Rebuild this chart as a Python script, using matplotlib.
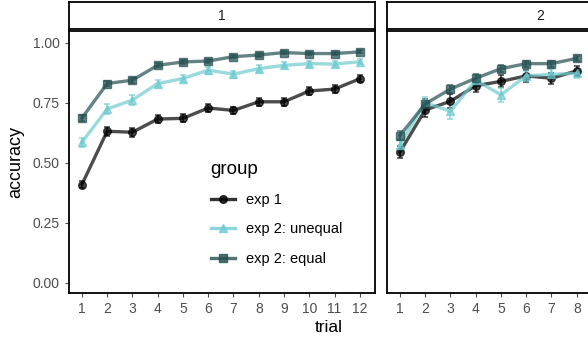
import numpy as np
import matplotlib.pyplot as plt
from matplotlib.lines import Line2D

plt.rcParams['font.family'] = ['Liberation Sans', 'DejaVu Sans']

# data
trials1 = np.arange(1, 13)
trials2 = np.arange(1, 9)
groups = ['exp 1', 'exp 2: unequal', 'exp 2: equal']

p1_exp1 = [0.41, 0.632, 0.628, 0.683, 0.686, 0.729, 0.719, 0.755, 0.755, 0.800, 0.808, 0.851]
p1_exp1_se = [0.015, 0.018, 0.018, 0.018, 0.017, 0.017, 0.016, 0.016, 0.017, 0.015, 0.015, 0.014]
p1_uneq = [0.586, 0.725, 0.762, 0.831, 0.852, 0.887, 0.870, 0.893, 0.907, 0.914, 0.912, 0.922]
p1_uneq_se = [0.018, 0.02, 0.02, 0.016, 0.016, 0.015, 0.015, 0.014, 0.013, 0.012, 0.012, 0.011]
p1_eq = [0.687, 0.831, 0.845, 0.907, 0.921, 0.925, 0.943, 0.950, 0.960, 0.956, 0.956, 0.963]
p1_eq_se = [0.012, 0.012, 0.011, 0.009, 0.008, 0.008, 0.007, 0.007, 0.006, 0.006, 0.006, 0.006]

p2_exp1 = [0.545, 0.721, 0.757, 0.822, 0.840, 0.863, 0.853, 0.884]
p2_exp1_se = [0.025, 0.03, 0.03, 0.025, 0.025, 0.025, 0.024, 0.022]
p2_uneq = [0.575, 0.752, 0.715, 0.845, 0.784, 0.863, 0.870, 0.873]
p2_uneq_se = [0.025, 0.025, 0.03, 0.02, 0.03, 0.02, 0.02, 0.02]
p2_eq = [0.614, 0.746, 0.808, 0.853, 0.893, 0.914, 0.914, 0.936]
p2_eq_se = [0.02, 0.02, 0.018, 0.016, 0.014, 0.012, 0.012, 0.011]

colors = ['#000000', '#6fcbd0', '#244f50']
markers = ['o', '^', 's']

W, H = 588, 341
fig = plt.figure(figsize=(W / 100, H / 100), dpi=100)

def px_axes(x0, y0, x1, y1):
    return fig.add_axes([x0 / W, 1 - y1 / H, (x1 - x0) / W, (y1 - y0) / H])

panels = [
    ('1', 69, trials1, [(p1_exp1, p1_exp1_se), (p1_uneq, p1_uneq_se), (p1_eq, p1_eq_se)]),
    ('2', 387, trials2, [(p2_exp1, p2_exp1_se), (p2_uneq, p2_uneq_se), (p2_eq, p2_eq_se)]),
]

for i, (lab, x0, trials, series) in enumerate(panels):
    ax = px_axes(x0, 31, x0 + 306, 293)
    for (vals, se), c, m in zip(series, colors, markers):
        ax.errorbar(trials, vals, yerr=se, color=c, lw=2.4, alpha=0.7,
                    marker=m, ms=5.5, elinewidth=1.2, capsize=2, capthick=1.2, zorder=3)
    ax.set_xlim(0.49, 12.6)
    ax.set_ylim(-0.042, 1.05)
    ax.set_xticks(trials)
    ax.set_yticks([0, 0.25, 0.5, 0.75, 1.0])
    ax.tick_params(colors='#4d4d4d', labelsize=10, length=3, width=0.8)
    for sp in ax.spines.values():
        sp.set_linewidth(1.3)
    if i == 0:
        ax.set_yticklabels(['0.00', '0.25', '0.50', '0.75', '1.00'])
        ax.set_ylabel('accuracy', fontsize=13, labelpad=6)
        handles = [Line2D([], [], color=c, marker=m, lw=2.4, ms=5.5, alpha=0.8)
                   for c, m in zip(colors, markers)]
        leg = ax.legend(handles, groups, title='group', loc='upper left',
                        bbox_to_anchor=(0.42, 0.555), frameon=False, fontsize=10.5,
                        title_fontsize=13.5, handlelength=1.7, labelspacing=1.05,
                        handletextpad=0.75)
        leg._legend_box.align = 'left'
    else:
        ax.set_yticklabels([])
        ax.tick_params(axis='y', length=0)

    st = px_axes(x0, 2, x0 + 306, 29)
    st.set_xticks([])
    st.set_yticks([])
    for sp in st.spines.values():
        sp.set_linewidth(1.3)
    st.text(0.5, 0.5, lab, ha='center', va='center', fontsize=10, color='#1a1a1a',
            transform=st.transAxes)

fig.text(329 / W, 1 - 328 / H, 'trial', ha='center', va='center', fontsize=12.5)

fig.savefig('out.png', dpi=100)
